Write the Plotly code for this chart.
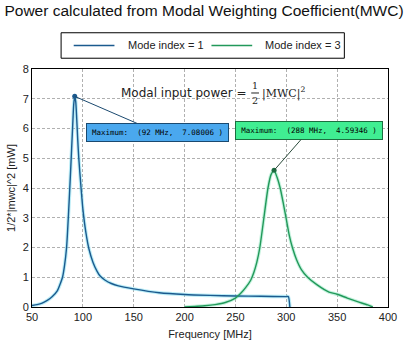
import plotly.graph_objects as go
import numpy as np

# Mode index = 1
f1 = [50, 55, 60, 65, 70, 75, 78, 80, 82, 84, 86, 88, 90, 91, 92, 93, 94, 95, 96, 98, 100, 103, 106, 110, 114, 117, 122, 128, 135, 150, 175, 200, 225, 250, 275, 300, 302, 303.5]
p1 = [0.05, 0.08, 0.13, 0.22, 0.35, 0.55, 0.8, 1.0, 1.4, 2.0, 3.2, 4.6, 6.1, 6.8, 7.08006, 6.9, 6.3, 5.6, 5.0, 4.1, 3.3, 2.5, 1.95, 1.5, 1.2, 1.04, 0.9, 0.79, 0.71, 0.61, 0.48, 0.42, 0.39, 0.37, 0.36, 0.35, 0.35, 0.0]
# Mode index = 3
f3 = [200, 210, 220, 230, 240, 250, 255, 260, 265, 268, 271, 274, 278, 282, 285, 288, 291, 294, 297, 300, 303, 306, 310, 315, 321, 330, 342, 350, 360, 370, 380, 385]
p3 = [0.0, 0.02, 0.04, 0.08, 0.15, 0.3, 0.45, 0.65, 0.9, 1.15, 1.5, 2.0, 3.0, 4.0, 4.45, 4.59346, 4.35, 4.0, 3.5, 2.95, 2.4, 2.0, 1.6, 1.25, 1.0, 0.75, 0.5, 0.43, 0.3, 0.18, 0.07, 0.0]

series_names = ["Mode index = 1", "Mode index = 3"]
x_ticks = [50, 100, 150, 200, 250, 300, 350, 400]
y_ticks = [0, 1, 2, 3, 4, 5, 6, 7, 8]

c1, c3 = "#1b5a8e", "#22995a"
halo1, halo3 = "rgba(120,220,240,0.5)", "rgba(140,230,190,0.5)"

L, R, T, B = 30, 11, 69, 38
W, H = 408, 350

def px_to_paper(xp, yp):
    return (xp - L) / (W - L - R), (H - B - yp) / (H - T - B)

fig = go.Figure()
sm = dict(shape="spline", smoothing=0.6)
fig.add_trace(go.Scatter(x=f1, y=p1, mode="lines", line=dict(color=halo1, width=3.5, **sm), showlegend=False, hoverinfo="skip"))
fig.add_trace(go.Scatter(x=f3, y=p3, mode="lines", line=dict(color=halo3, width=3.5, **sm), showlegend=False, hoverinfo="skip"))
fig.add_trace(go.Scatter(x=f1, y=p1, mode="lines", name=series_names[0], line=dict(color=c1, width=1.4, **sm), showlegend=False))
fig.add_trace(go.Scatter(x=f3, y=p3, mode="lines", name=series_names[1], line=dict(color=c3, width=1.4, **sm), showlegend=False))

i1 = int(np.argmax(p1)); i3 = int(np.argmax(p3))
fig.add_trace(go.Scatter(x=[f1[i1]], y=[p1[i1]], mode="markers", marker=dict(color=c1, size=5), showlegend=False))
fig.add_trace(go.Scatter(x=[f3[i3]], y=[p3[i3]], mode="markers", marker=dict(color="#1c6e40", size=5), showlegend=False))

mono = dict(family="DejaVu Sans Mono", size=7.5, color="black")
fig.add_annotation(x=f1[i1], y=p1[i1], text="Maximum:  (%d MHz,  %.5f )" % (f1[i1], p1[i1]),
                   showarrow=True, arrowhead=0, arrowwidth=1, arrowcolor="#1b4a70",
                   ax=83, ay=36, font=mono, bgcolor="#4aa8ee", bordercolor="#1b4a70",
                   borderwidth=1, borderpad=4, width=133)
fig.add_annotation(x=f3[i3], y=p3[i3], text="Maximum:  (%d MHz,  %.5f )" % (f3[i3], p3[i3]),
                   showarrow=True, arrowhead=0, arrowwidth=1, arrowcolor="#2a4a3a",
                   ax=35, ay=-40, font=mono, bgcolor="#40ee92", bordercolor="#1c6e40",
                   borderwidth=1, borderpad=4, width=138)

def pann(xp, yp, text, font, xanchor="center"):
    x, y = px_to_paper(xp, yp)
    fig.add_annotation(x=x, y=y, xref="paper", yref="paper", text=text, showarrow=False,
                       font=font, xanchor=xanchor, yanchor="middle")

# formula
pann(253, 93, "Modal input power =", dict(family="DejaVu Sans", size=12, color="#222"), "right")
pann(260, 86, "1", dict(family="DejaVu Serif", size=9.5, color="#222"))
pann(260, 101, "2", dict(family="DejaVu Serif", size=9.5, color="#222"))
pann(265, 93, "|MWC|<sup>2</sup>", dict(family="DejaVu Serif", size=11, color="#222"), "left")
fx0, fy0 = px_to_paper(256, 93.5)
fx1, _ = px_to_paper(264, 93.5)
fig.add_shape(type="line", xref="paper", yref="paper", x0=fx0, x1=fx1, y0=fy0, y1=fy0,
              line=dict(color="#222", width=1))

# legend box
bx0, by0 = px_to_paper(60, 58)
bx1, by1 = px_to_paper(352, 32)
fig.add_shape(type="rect", xref="paper", yref="paper", x0=bx0, x1=bx1, y0=by0, y1=by1,
              line=dict(color="black", width=1), fillcolor="white")
for (lx0, lx1, tx, col, name) in [(73, 115, 127, c1, series_names[0]), (215, 257, 268, c3, series_names[1])]:
    a0, ly = px_to_paper(lx0, 45)
    a1, _ = px_to_paper(lx1, 45)
    fig.add_shape(type="line", xref="paper", yref="paper", x0=a0, x1=a1, y0=ly, y1=ly,
                  line=dict(color=col, width=1.4))
    pann(tx, 45, name, dict(family="Liberation Sans, Arial", size=11, color="#222"), "left")

fig.update_layout(
    width=W, height=H,
    margin=dict(l=L, r=R, t=T, b=B),
    paper_bgcolor="white", plot_bgcolor="white",
    font=dict(family="Liberation Sans, Arial", size=11, color="#222"),
    title=dict(text="Power calculated from Modal Weighting Coefficient(MWC)", x=0.5, xanchor="center",
               y=1 - 11 / H, yanchor="middle", font=dict(size=15.5, color="#111")),
    showlegend=False,
    xaxis=dict(range=[50, 400], tickvals=x_ticks, showgrid=True, gridcolor="#b0b0b0", griddash="3px,2px",
               gridwidth=1, showline=True, linecolor="black", linewidth=1, mirror=True, zeroline=False,
               ticks="", title=dict(text="Frequency [MHz]", font=dict(size=11), standoff=8),
               tickfont=dict(size=11)),
    yaxis=dict(range=[0, 8], tickvals=y_ticks, showgrid=True, gridcolor="#b0b0b0", griddash="3px,2px",
               gridwidth=1, showline=True, linecolor="black", linewidth=1, mirror=True, zeroline=False,
               ticks="", title=dict(text="1/2*|mwc|^2 [mW]", font=dict(size=11), standoff=4),
               tickfont=dict(size=11)),
)

fig.write_html("out.html")
